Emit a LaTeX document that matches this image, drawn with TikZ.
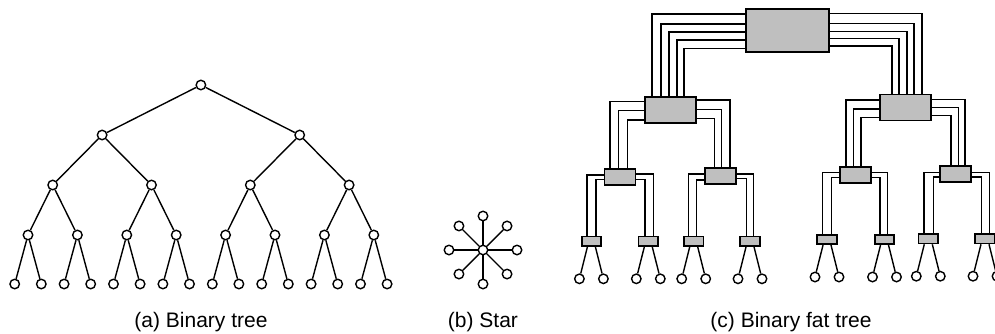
\documentclass[tikz,border=0pt]{standalone}
\usepackage{fontspec}
\setmainfont{Liberation Sans}
\begin{document}
\begin{tikzpicture}[x=1pt,y=-1pt,
  vtx/.style={circle,draw,line width=1.4pt,inner sep=0pt,minimum size=9.5pt,fill=white},
  edge/.style={line width=1.4pt},
  wire/.style={line width=1.4pt},
  sw/.style={draw,line width=1.9pt,fill=black!25,inner sep=0pt},
  swbig/.style={sw,minimum width=51pt,minimum height=26pt},
  swmid/.style={sw,minimum width=31pt,minimum height=16pt},
  swsmall/.style={sw,line width=1.7pt,minimum width=19.5pt,minimum height=9.5pt},
  figlabel/.style={font=\fontsize{21}{25}\selectfont,anchor=base}]

\useasboundingbox (0,0) rectangle (995,333);
\fill[white] (0,0) rectangle (995,333);
\clip (0,0) rectangle (995,333);

% ---------- (a) binary tree ----------
\node[vtx] (t0) at ({28+49.4*3.5},85) {};
\foreach \k in {0,1}
  \node[vtx] (t1-\k) at ({28+49.4*(4*\k+1.5)},135) {};
\foreach \j in {0,...,3}
  \node[vtx] (t2-\j) at ({28+49.4*(2*\j+0.5)},185) {};
\foreach \i in {0,...,7} {
  \pgfmathsetmacro\xx{28+49.4*\i}
  \node[vtx] (t3-\i) at (\xx,235) {};
  \node[vtx] (t4-\i-0) at (\xx-13.3,284) {};
  \node[vtx] (t4-\i-1) at (\xx+13.3,284) {};
}
\draw[edge] (t0) -- (t1-0) (t0) -- (t1-1);
\foreach \k in {0,1} {
  \pgfmathtruncatemacro\ca{2*\k}\pgfmathtruncatemacro\cb{2*\k+1}
  \draw[edge] (t1-\k) -- (t2-\ca) (t1-\k) -- (t2-\cb);
}
\foreach \j in {0,...,3} {
  \pgfmathtruncatemacro\ca{2*\j}\pgfmathtruncatemacro\cb{2*\j+1}
  \draw[edge] (t2-\j) -- (t3-\ca) (t2-\j) -- (t3-\cb);
}
\foreach \i in {0,...,7}
  \draw[edge] (t3-\i) -- (t4-\i-0) (t3-\i) -- (t4-\i-1);
\node[figlabel] (lab-a) at (201,327) {(a) Binary tree};

% ---------- (b) star ----------
\node[vtx] (hub) at (483,250) {};
\foreach \a in {0,45,...,315} {
  \node[vtx] (ray-\a) at ([shift={(\a:34)}]hub) {};
  \draw[edge] (hub) -- (ray-\a);
}
\node[figlabel] (lab-b) at (483,327) {(b) Star};

% ---------- (c) binary fat tree ----------
\node[sw,minimum width=83pt,minimum height=43pt] (root) at (787.5,30.5) {};
\node[swbig] (ua) at (670.5,110) {};
\node[swbig] (ub) at (905.5,107.5) {};
\node[swmid] (m1) at (620,177) {};
\node[swmid] (m2) at (720.5,176) {};
\node[swmid] (m3) at (855.2,174.6) {};
\node[swmid] (m4) at (955.8,173.8) {};
\foreach \n/\x/\y in {1/591.4/241.3, 2/648.3/241.3, 3/693.7/241.3, 4/750/241.3,
                      5/827/239.5, 6/884.5/239.5, 7/928.3/238.7, 8/985/238.7}
  \node[swsmall] (lo\n) at (\x,\y) {};

% four channels from the root switch
\foreach \y/\x in {14/652, 24/661, 32/669, 40/677, 48.5/684}
  \draw[wire] (root.west |- 0,\y) -| (ua.north -| \x,0);
\foreach \y/\x in {13.5/922, 23.5/914, 31.5/907, 38.5/899, 46/892}
  \draw[wire] (root.east |- 0,\y) -| (ub.north -| \x,0);

% two channels from the second level
\foreach \y/\x in {101.7/610, 110.7/618.3, 120/627.7}
  \draw[wire] (ua.west |- 0,\y) -| (m1.north -| \x,0);
\foreach \y/\x in {100/730, 109.3/721.7, 118.3/714.3}
  \draw[wire] (ua.east |- 0,\y) -| (m2.north -| \x,0);
\foreach \y/\x in {100/846, 109/853.3, 117.3/861}
  \draw[wire] (ub.west |- 0,\y) -| (m3.north -| \x,0);
\foreach \y/\x in {99.3/965, 107.7/958.3, 115.7/951}
  \draw[wire] (ub.east |- 0,\y) -| (m4.north -| \x,0);

% single channels from the third level
\foreach \y/\x in {175/587, 179.3/596}
  \draw[wire] (m1.west |- 0,\y) -| (lo1.north -| \x,0);
\foreach \y/\x in {174/653.3, 179.3/645}
  \draw[wire] (m1.east |- 0,\y) -| (lo2.north -| \x,0);
\foreach \y/\x in {174/688.3, 180/696.5}
  \draw[wire] (m2.west |- 0,\y) -| (lo3.north -| \x,0);
\foreach \y/\x in {174/753.3, 178.3/746.7}
  \draw[wire] (m2.east |- 0,\y) -| (lo4.north -| \x,0);
\foreach \y/\x in {172.7/822.7, 177.3/831.7}
  \draw[wire] (m3.west |- 0,\y) -| (lo5.north -| \x,0);
\foreach \y/\x in {172.7/887.3, 177.3/880}
  \draw[wire] (m3.east |- 0,\y) -| (lo6.north -| \x,0);
\foreach \y/\x in {172.7/924, 177/933.3}
  \draw[wire] (m4.west |- 0,\y) -| (lo7.north -| \x,0);
\foreach \y/\x in {172.7/989.3, 177/981.7}
  \draw[wire] (m4.east |- 0,\y) -| (lo8.north -| \x,0);

% processors at the leaves
\foreach \n in {1,...,8} {
  \node[vtx] (pl\n) at ([shift={(-12,37.5)}]lo\n.center) {};
  \node[vtx] (pr\n) at ([shift={(12,37.5)}]lo\n.center) {};
  \draw[edge] ([xshift=-4pt]lo\n.south) -- (pl\n);
  \draw[edge] ([xshift=4pt]lo\n.south) -- (pr\n);
}
\node[figlabel] (lab-c) at (791,327) {(c) Binary fat tree};
\end{tikzpicture}
\end{document}
